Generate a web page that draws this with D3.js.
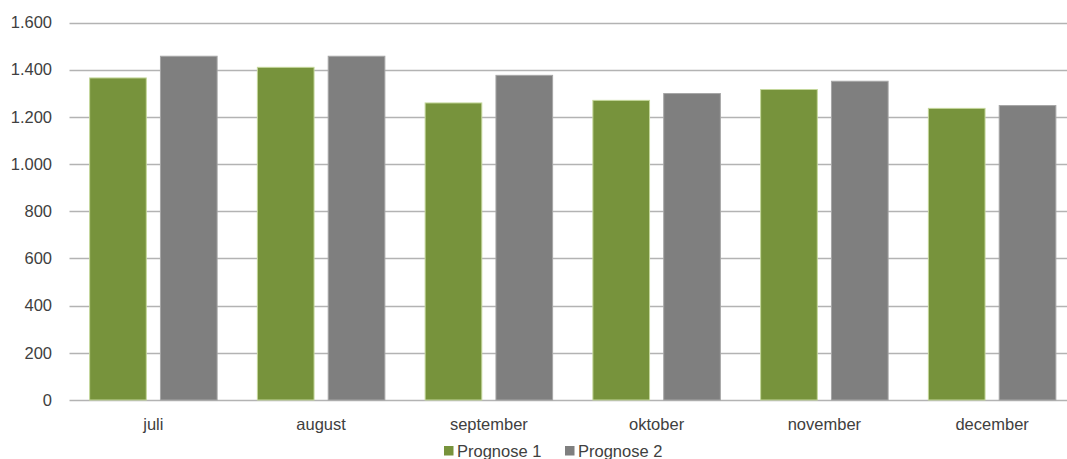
<!DOCTYPE html>
<html>
<head>
<meta charset="utf-8">
<script src="https://cdn.jsdelivr.net/npm/d3@7/dist/d3.min.js"></script>
<style>
  html, body { margin: 0; padding: 0; background: #fff; overflow: hidden; }
  svg { display: block; }
  text { font-family: "Liberation Sans", "DejaVu Sans", sans-serif; fill: #404040; }
</style>
</head>
<body>
<svg id="chart" width="1067" height="459"></svg>
<script>
const categories = ["juli", "august", "september", "oktober", "november", "december"];
const seriesNames = ["Prognose 1", "Prognose 2"];
const prognose1 = [1365, 1410, 1259, 1270, 1316, 1236];
const prognose2 = [1457, 1457, 1376, 1299, 1351, 1248];
const yTicks = [0, 200, 400, 600, 800, 1000, 1200, 1400, 1600];
const colors = ["#77933C", "#7F7F7F"];
const strokes = ["#C4D79B", "#A6A6A6"];

const svg = d3.select("#chart");
const plotLeft = 69.5, plotRight = 1076, plotTop = 22.5, plotBottom = 400;

const x = d3.scaleBand().domain(categories).range([plotLeft, plotRight]).paddingInner(0.24).paddingOuter(0.12);
const xs = d3.scaleBand().domain(seriesNames).range([0, x.bandwidth()]).paddingInner(0.2);
const y = d3.scaleLinear().domain([0, 1600]).range([plotBottom, plotTop]);

const fmt = v => d3.format(",")(v).replace(/,/g, ".");

// gridlines
svg.append("g").selectAll("line").data(yTicks).join("line")
  .attr("x1", plotLeft).attr("x2", 1067)
  .attr("y1", d => Math.round(y(d)) + 0.5).attr("y2", d => Math.round(y(d)) + 0.5)
  .attr("stroke", "#B3B3B3").attr("stroke-width", 1.4);

// y labels
svg.append("g").selectAll("text").data(yTicks).join("text")
  .attr("x", 52).attr("y", d => y(d)).attr("dy", "0.35em")
  .attr("text-anchor", "end").style("font-size", "16.5px")
  .text(fmt);

// bars
const series = [prognose1, prognose2];
series.forEach((vals, si) => {
  svg.append("g").selectAll("rect").data(vals).join("rect")
    .attr("x", (d, i) => x(categories[i]) + xs(seriesNames[si]))
    .attr("width", xs.bandwidth())
    .attr("y", d => y(d))
    .attr("height", d => y(0) - y(d))
    .attr("fill", colors[si])
    .attr("stroke", strokes[si]).attr("stroke-width", 1);
});

// x labels
svg.append("g").selectAll("text").data(categories).join("text")
  .attr("x", d => x(d) + x.bandwidth() / 2).attr("y", 424).attr("dy", "0.35em")
  .attr("text-anchor", "middle").style("font-size", "16.5px")
  .text(d => d);

// legend
const legendX = [444, 565];
const lg = svg.append("g").selectAll("g").data(seriesNames).join("g")
  .attr("transform", (d, i) => `translate(${legendX[i]},0)`);
lg.append("rect").attr("x", 0).attr("y", 446).attr("width", 9.5).attr("height", 9.5)
  .attr("fill", (d, i) => colors[i]);
lg.append("text").attr("x", 13).attr("y", 451).attr("dy", "0.35em")
  .style("font-size", "16.5px").text(d => d);
</script>
</body>
</html>
